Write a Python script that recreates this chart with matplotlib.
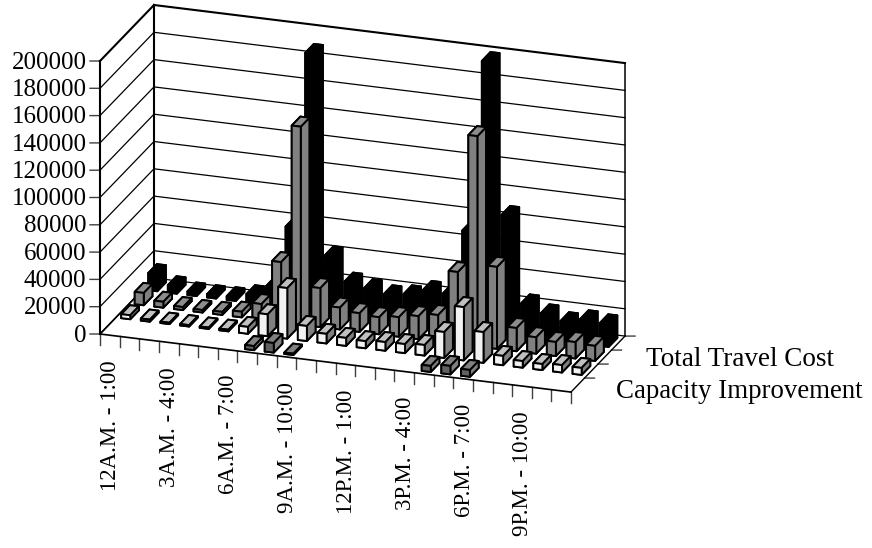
import numpy as np
import matplotlib
matplotlib.use('Agg')
import matplotlib.pyplot as plt
from mpl_toolkits.mplot3d import Axes3D, proj3d

plt.rcParams['font.family'] = ['Liberation Serif', 'DejaVu Serif']

# one value per hour, 12A.M. onwards, rows are front to back
row_dark = [0, 0, 0, 0, 0, 0, 0, 3000, 7000, 1000, 0, 0,
            0, 0, 0, 0, 4400, 6200, 5000, 0, 0, 0, 0, 0]
row_white = [2900, 1500, 1000, 1000, 1000, 1200, 5000, 16000, 37000, 11000, 7000, 5800,
             5200, 6300, 6600, 7700, 19000, 39000, 22500, 6800, 4800, 4400, 5400, 5100]
row_gray = [9000, 4300, 2200, 1800, 2200, 4100, 11500, 44000, 145000, 28500, 16000, 13700,
            12500, 14300, 16800, 19400, 52700, 154000, 60000, 17000, 12000, 10300, 12000, 11000]
row_black = [12500, 5400, 2600, 2400, 2700, 5900, 13500, 59000, 188000, 41500, 24000, 21000,
             18300, 20000, 25000, 24000, 72000, 198000, 87000, 24000, 18500, 14500, 17700, 16500]

# bottom, top, front, back, left, right
row_colors = [
    ['#606060', '#808080', '#606060', '#606060', '#606060', '#808080'],
    ['#f2f2f2', '#c0c0c0', '#f2f2f2', '#f2f2f2', '#808080', '#808080'],
    ['#808080', '#8c8c8c', '#808080', '#808080', '#808080', '#808080'],
    ['black', 'black', 'black', 'black', 'black', 'black'],
]
rows = [row_dark, row_white, row_gray, row_black]

z_ticks = list(range(0, 200001, 20000))
x_labels = ['12A.M. - 1:00', '3A.M. - 4:00', '6A.M. - 7:00', '9A.M. - 10:00',
            '12P.M. - 1:00', '3P.M. - 4:00', '6P.M. - 7:00', '9P.M. - 10:00']
n_x = 24
n_y = 4
z_max = 200000

fig = plt.figure(figsize=(8.72, 5.48), dpi=100)
ax = fig.add_axes([0, 0, 1, 1], projection='3d')
ax.set_axis_off()
ax.set_proj_type('ortho')
ax.computed_zorder = False

# oblique view of the box, in pixels of the figure
M = np.array([[19.625, 13.5, 0, 100],
              [-2.42, 14.0, 273 / z_max, 214],
              [-0.1, 1.0, -1e-6, 0],
              [0, 0, 0, 1.0]])
ax.get_proj = lambda: M
ax.apply_aspect = lambda position=None: None


def label(x, y, z, s, **kw):
    # plain 2D text placed where the 3D point lands
    px, py, _ = proj3d.proj_transform(x, y, z, M)
    ax.text2D(px, py, s, transform=ax.transData, **kw)


thin = dict(color='black', lw=0.9, zorder=1)
thick = dict(color='black', lw=1.5, zorder=2)

for z in z_ticks:
    st = thick if z == z_max else thin
    ax.plot([0, 0], [0, n_y], [z, z], **st)
    ax.plot([0, n_x], [n_y, n_y], [z, z], **st)
    ax.plot([-0.4555, 0], [-0.0788, 0], [z, z], color='#404040', lw=1.0, zorder=1)
    label(-0.62, -0.107, z - 1200, str(z), ha='right', va='center', fontsize=18)

ax.plot([0, 0], [0, 0], [0, z_max], **thick)
ax.plot([0, 0], [n_y, n_y], [0, z_max], **thick)
ax.plot([n_x, n_x], [n_y, n_y], [0, z_max], color='black', lw=1.1, zorder=2)
ax.plot([0, n_x], [0, 0], [0, 0], color='black', lw=1.2, zorder=2)
ax.plot([0, 0], [0, n_y], [0, 0], color='black', lw=1.2, zorder=2)
ax.plot([n_x, n_x], [0, n_y], [0, 0], color='black', lw=1.0, zorder=2)

for i in range(n_x + 1):
    ax.plot([i, i], [0, 0], [0, -8000], color='#404040', lw=1.0, zorder=1)
for r in range(1, n_y + 1):
    ax.plot([n_x, n_x + 0.4555], [r, r + 0.0788], [0, 0], color='#404040', lw=1.0, zorder=1)

# back row first, left to right, so nearer bars cover the far ones
zo = 10
for r in range(n_y - 1, -1, -1):
    for i, v in enumerate(rows[r]):
        if v <= 0:
            continue
        bar = ax.bar3d(i + 0.27, r + 0.18, 0, 0.46, 0.64, v, color=row_colors[r],
                       edgecolor='black', linewidth=1.4, shade=False)
        bar.set_zorder(zo)
        zo += 1

for k, lab in enumerate(x_labels):
    label(k * 3 + 0.55, 0, -18300, lab, rotation=90, ha='center', va='top', fontsize=16.5)

fig.text(646 / 872, 1 - 360 / 548, 'Total Travel Cost', ha='left', va='center', fontsize=19.5)
fig.text(616 / 872, 1 - 392 / 548, 'Capacity Improvement', ha='left', va='center', fontsize=19.4)

ax.viewLim.intervalx = (0, 872)
ax.viewLim.intervaly = (0, 548)

fig.savefig('out.png', dpi=100)
